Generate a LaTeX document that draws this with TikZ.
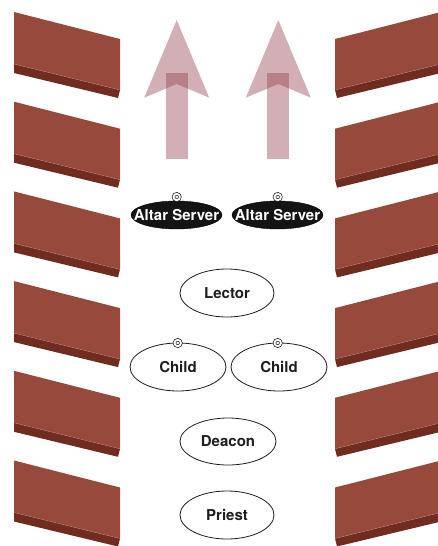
\documentclass[tikz,border=0pt]{standalone}
\usepackage{fontspec}
\setmainfont{TeX Gyre Heros}
\usetikzlibrary{shapes.geometric}
\definecolor{pewface}{RGB}{151,73,59}
\definecolor{pewside}{RGB}{112,44,33}
\definecolor{pewedge}{RGB}{190,130,118}
\definecolor{arrowcol}{RGB}{143,55,68}
\definecolor{txt}{RGB}{30,30,30}
\tikzset{
  rolenode/.style={ellipse, draw=txt, line width=0.8pt, fill=white, inner sep=0pt,
    text=txt, font=\fontsize{15}{18}\selectfont\bfseries},
  servernode/.style={ellipse, draw=black, fill=black!92, inner sep=0pt,
    text=white, font=\fontsize{15}{18}\selectfont\bfseries,
    minimum width=91pt, minimum height=28pt},
  ring/.style={circle, draw=txt, line width=0.7pt, double=white, double distance=1.9pt,
    fill=white, minimum size=6.4pt, inner sep=0pt},
  ghostarrow/.style={fill=arrowcol, fill opacity=0.4},
}
\begin{document}
\begin{tikzpicture}[x=1pt,y=-1pt]
\useasboundingbox (0,0) rectangle (437,546);
% pews
\foreach \k in {0,...,5}{
  \pgfmathsetmacro\o{89.7*\k}
  \fill[pewface] (14,{12+\o}) -- (120,{39+\o}) -- (120,{90+\o}) -- (14,{64+\o}) -- cycle;
  \fill[pewside] (14,{64+\o}) -- (120,{90+\o}) -- (118,{98+\o}) -- (14,{73+\o}) -- cycle;
  \draw[pewedge, line width=0.3pt] (14,{64+\o}) -- (120,{90+\o});
  \fill[pewface] (441,{12+\o}) -- (335,{39+\o}) -- (335,{90+\o}) -- (441,{64+\o}) -- cycle;
  \fill[pewside] (441,{64+\o}) -- (335,{90+\o}) -- (337,{98+\o}) -- (441,{73+\o}) -- cycle;
  \draw[pewedge, line width=0.3pt] (441,{64+\o}) -- (335,{90+\o});
}
% ghost arrows
\foreach \c in {176.7,278.3}{
  \fill[ghostarrow] (\c,20) -- ({\c+32.5},97.7) -- (\c,84) -- ({\c-32.5},97.7) -- cycle;
  \fill[ghostarrow] ({\c-11},72.7) rectangle ({\c+11},159);
}
% people
\node[servernode] (as1) at (176.5,215) {\makebox[0pt]{Altar Server}};
\node[servernode] (as2) at (277.5,215) {\makebox[0pt]{Altar Server}};
\node[rolenode, minimum width=94pt, minimum height=48pt] (lector) at (227,293) {Lector};
\node[rolenode, minimum width=96pt, minimum height=48pt] (child1) at (178,367) {Child};
\node[rolenode, minimum width=96pt, minimum height=48pt] (child2) at (279,367) {Child};
\node[rolenode, minimum width=96pt, minimum height=47pt] (deacon) at (228,441.5) {Deacon};
\node[rolenode, minimum width=94pt, minimum height=48pt] (priest) at (227,515) {Priest};
% rings
\node[ring] (r1) at (176.7,197) {};
\node[ring] (r2) at (277.7,197) {};
\node[ring] (r3) at (177.7,343) {};
\node[ring] (r4) at (277.7,343) {};
\end{tikzpicture}
\end{document}
